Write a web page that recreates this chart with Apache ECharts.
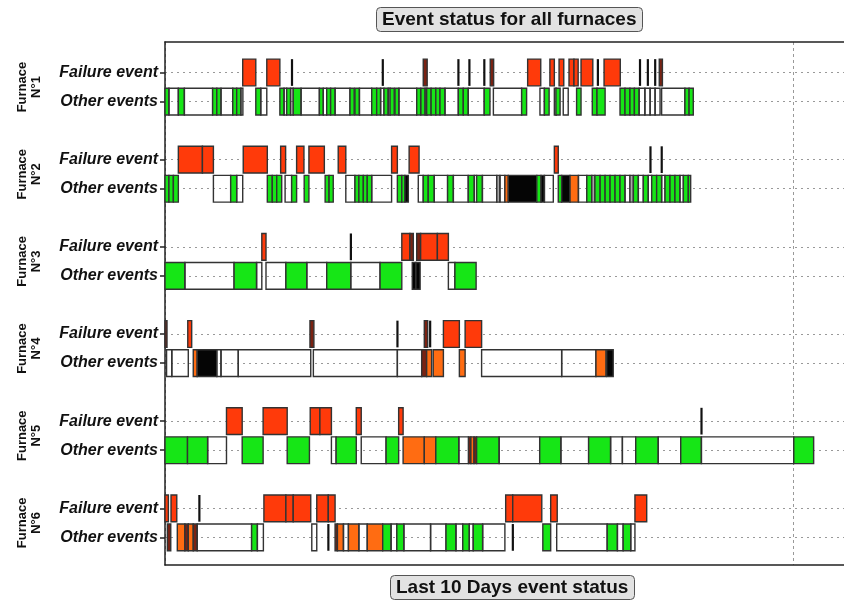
<!DOCTYPE html>
<html>
<head>
<meta charset="utf-8">
<title>Event status for all furnaces</title>
<script src="https://cdn.jsdelivr.net/npm/echarts@6/dist/echarts.min.js"></script>
<style>
  html, body { margin: 0; padding: 0; background: #fff; }
  #chart { width: 844px; height: 606px; }
</style>
</head>
<body>
<div id="chart"></div>
<script>
// hours since the start of the 10 day window: [start, end, kind]
// kind: F failure, D short failure, L instant event, G green, W no colour, O orange, B black, Y grey
const f1Failure = [
  [29.7, 34.7, 'F'], [38.9, 43.9, 'F'], [48.5, 48.5, 'L'], [83.2, 83.2, 'L'], [98.7, 100.2, 'D'],
  [112.1, 112.1, 'L'], [116.3, 116.3, 'L'], [122.0, 122.0, 'L'], [124.3, 125.6, 'D'], [138.6, 143.6, 'F'],
  [147.1, 148.8, 'F'], [150.6, 152.4, 'F'], [154.4, 156.3, 'F'], [156.3, 157.9, 'F'], [159.0, 163.5, 'F'],
  [165.4, 165.4, 'L'], [167.8, 174.0, 'F'], [181.5, 181.5, 'L'], [184.5, 184.5, 'L'], [187.3, 187.3, 'L'],
  [188.9, 190.1, 'D']
]
const f1Other = [
  [0, 1.5, 'G'], [1.5, 5.1, 'W'], [5.1, 7.4, 'G'], [7.4, 18.2, 'W'], [18.2, 19.8, 'G'], [19.8, 21.4, 'G'],
  [21.4, 25.9, 'W'], [25.9, 27.4, 'G'], [27.4, 29.0, 'G'], [29.0, 29.7, 'W'], [34.7, 36.6, 'G'], [36.6, 38.9, 'W'],
  [43.9, 45.5, 'G'], [45.5, 46.5, 'W'], [46.5, 48.0, 'G'], [48.0, 49.0, 'W'], [49.0, 52.0, 'G'], [52.0, 59.0, 'W'],
  [59.0, 60.5, 'G'], [60.5, 61.8, 'W'], [61.8, 63.3, 'G'], [63.3, 65.0, 'G'], [65.0, 70.7, 'W'], [70.7, 72.3, 'G'],
  [72.6, 74.3, 'G'], [74.3, 79.0, 'W'], [79.0, 80.9, 'G'], [80.9, 82.4, 'G'], [82.4, 83.7, 'W'], [83.7, 85.3, 'G'],
  [85.3, 86.0, 'W'], [86.0, 87.6, 'G'], [87.9, 89.4, 'G'], [89.4, 96.2, 'W'], [96.2, 97.7, 'G'], [97.8, 99.4, 'G'],
  [99.4, 100.0, 'W'], [100.0, 101.7, 'G'], [101.7, 103.5, 'G'], [103.5, 105.1, 'G'], [105.1, 107.0, 'G'],
  [107.0, 112.1, 'W'], [112.1, 114.0, 'G'], [114.0, 115.9, 'G'], [115.9, 122.0, 'W'], [122.0, 124.2, 'G'],
  [125.5, 136.3, 'W'], [136.3, 138.2, 'G'], [143.3, 145.0, 'W'], [145.0, 146.8, 'G'], [148.8, 149.4, 'W'],
  [149.4, 151.0, 'G'], [152.2, 154.1, 'W'], [157.3, 159.0, 'G'], [163.3, 165.1, 'G'], [165.1, 168.2, 'G'],
  [173.9, 175.8, 'G'], [175.8, 177.7, 'G'], [177.7, 179.4, 'G'], [179.4, 181.2, 'G'], [181.2, 183.4, 'W'],
  [183.4, 185.4, 'W'], [185.4, 187.3, 'W'], [187.3, 189.2, 'W'], [189.8, 198.7, 'W'], [198.7, 200.3, 'G'],
  [200.3, 201.9, 'G']
]
const f2Failure = [
  [5.1, 14.3, 'F'], [14.3, 18.5, 'F'], [29.9, 39.1, 'F'], [44.2, 46.1, 'F'], [50.3, 53.1, 'F'], [55.0, 60.9, 'F'],
  [66.2, 69.1, 'F'], [86.6, 88.8, 'F'], [93.3, 97.1, 'F'], [148.8, 150.3, 'F'], [185.5, 185.5, 'L'], [189.8, 189.8, 'L']
]
const f2Other = [
  [0, 1.5, 'G'], [1.5, 3.2, 'G'], [3.2, 5.1, 'G'], [18.5, 25.1, 'W'], [25.1, 27.4, 'G'], [27.4, 29.7, 'W'],
  [39.1, 41.0, 'G'], [41.0, 42.7, 'G'], [42.7, 44.6, 'G'], [45.9, 48.4, 'W'], [48.4, 50.3, 'G'], [53.2, 55.0, 'G'],
  [61.2, 62.7, 'G'], [62.7, 64.3, 'G'], [69.1, 72.6, 'W'], [72.6, 74.1, 'G'], [74.1, 75.8, 'G'], [75.8, 77.3, 'G'],
  [77.3, 79.0, 'G'], [79.0, 86.6, 'W'], [88.8, 90.5, 'G'], [90.5, 91.7, 'G'], [91.7, 93.0, 'B'], [96.8, 98.7, 'W'],
  [98.7, 100.6, 'G'], [100.6, 102.9, 'G'], [102.9, 108.0, 'W'], [108.0, 110.2, 'G'], [110.2, 115.9, 'W'],
  [115.9, 118.2, 'G'], [118.2, 119.1, 'W'], [119.1, 121.3, 'G'], [121.3, 126.8, 'W'], [126.8, 128.0, 'Y'],
  [128.0, 129.9, 'W'], [129.9, 131.2, 'O'], [131.2, 142.1, 'B'], [142.1, 143.7, 'G'], [143.7, 145.0, 'B'],
  [145.0, 148.4, 'W'], [150.3, 151.6, 'G'], [151.6, 154.8, 'B'], [154.8, 158.0, 'O'], [158.0, 161.2, 'W'],
  [161.2, 163.1, 'G'], [163.1, 164.3, 'Y'], [164.3, 166.3, 'G'], [166.3, 168.2, 'G'], [168.2, 170.1, 'G'],
  [170.1, 172.0, 'G'], [172.0, 173.9, 'G'], [173.9, 175.8, 'G'], [175.8, 177.7, 'W'], [177.7, 179.0, 'Y'],
  [179.0, 180.9, 'G'], [180.9, 182.8, 'W'], [182.8, 184.7, 'G'], [184.7, 186.0, 'W'], [186.0, 187.9, 'G'],
  [187.9, 189.8, 'G'], [189.8, 191.1, 'W'], [191.1, 193.0, 'G'], [193.0, 194.9, 'G'], [194.9, 196.8, 'G'],
  [196.8, 198.1, 'W'], [198.1, 200.0, 'G'], [200.0, 200.9, 'G']
]
const f3Failure = [
  [37.0, 38.6, 'F'], [71.0, 71.0, 'L'], [90.5, 93.6, 'F'], [93.6, 94.9, 'D'], [96.2, 97.7, 'D'],
  [97.7, 104.1, 'F'], [104.1, 108.3, 'F']
]
const f3Other = [
  [0, 7.6, 'G'], [7.6, 26.4, 'W'], [26.4, 35.0, 'G'], [35.0, 37.0, 'W'], [38.6, 46.2, 'W'], [46.2, 54.2, 'G'],
  [54.2, 61.8, 'W'], [61.8, 71.0, 'G'], [71.0, 82.2, 'W'], [82.2, 90.5, 'G'], [94.5, 95.9, 'B'], [95.9, 97.5, 'B'],
  [108.3, 110.8, 'W'], [110.8, 118.9, 'G']
]
const f4Failure = [
  [0, 0.6, 'D'], [8.7, 10.2, 'F'], [55.4, 56.9, 'D'], [88.8, 88.8, 'L'], [99.1, 100.4, 'D'], [101.3, 101.3, 'L'],
  [106.4, 112.5, 'F'], [114.7, 121.0, 'F']
]
const f4Other = [
  [0.6, 2.6, 'W'], [2.6, 8.9, 'W'], [10.8, 12.3, 'O'], [12.3, 19.8, 'B'], [19.8, 21.4, 'W'], [21.4, 28.0, 'W'],
  [28.0, 55.7, 'W'], [56.7, 88.8, 'W'], [88.8, 98.1, 'W'], [98.1, 100.0, 'D'], [100.0, 101.9, 'O'],
  [102.5, 106.4, 'O'], [112.5, 114.7, 'O'], [121.0, 151.6, 'W'], [151.6, 164.7, 'W'], [164.7, 168.5, 'O'],
  [168.8, 171.3, 'B']
]
const f5Failure = [
  [23.5, 29.5, 'F'], [37.5, 46.7, 'F'], [55.5, 59.2, 'F'], [59.2, 63.6, 'F'], [73.1, 75.0, 'F'], [89.3, 91.0, 'F'],
  [205.0, 205.0, 'L']
]
const f5Other = [
  [0, 8.6, 'G'], [8.6, 16.3, 'G'], [16.3, 23.5, 'W'], [29.5, 37.5, 'G'], [46.7, 55.2, 'G'], [63.6, 65.4, 'W'],
  [65.4, 73.1, 'G'], [75.0, 84.5, 'W'], [84.5, 89.3, 'G'], [91.0, 99.1, 'O'], [99.1, 103.5, 'O'], [103.5, 112.3, 'G'],
  [112.3, 116.0, 'W'], [116.0, 116.9, 'D'], [116.9, 118.1, 'O'], [118.1, 119.1, 'D'], [119.1, 127.7, 'G'],
  [127.7, 143.2, 'W'], [143.2, 151.3, 'G'], [151.3, 161.9, 'W'], [161.9, 170.3, 'G'], [170.3, 174.8, 'W'],
  [174.8, 179.9, 'W'], [179.9, 188.5, 'G'], [188.5, 197.1, 'W'], [197.1, 205.0, 'G'], [205.0, 240.3, 'W'],
  [240.3, 247.9, 'G']
]
const f6Failure = [
  [0, 1.3, 'F'], [2.3, 4.5, 'F'], [13.1, 13.1, 'L'], [37.8, 46.2, 'F'], [46.2, 49.0, 'F'], [49.0, 55.7, 'F'],
  [58.0, 62.4, 'F'], [62.4, 65.0, 'F'], [130.2, 132.9, 'F'], [132.9, 144.0, 'F'], [147.4, 149.9, 'F'],
  [179.6, 184.1, 'F']
]
const f6Other = [
  [0.9, 2.2, 'D'], [4.7, 7.6, 'O'], [7.6, 8.9, 'D'], [8.9, 10.8, 'O'], [10.8, 12.3, 'D'], [12.3, 33.1, 'W'],
  [33.1, 35.3, 'G'], [35.3, 37.6, 'W'], [56.1, 58.0, 'W'], [62.4, 62.4, 'L'], [65.0, 65.9, 'D'], [65.9, 68.2, 'O'],
  [68.2, 70.1, 'W'], [70.1, 74.1, 'O'], [74.1, 77.3, 'W'], [77.3, 83.2, 'O'], [83.2, 86.4, 'G'], [86.4, 88.6, 'W'],
  [88.6, 91.3, 'G'], [91.3, 101.5, 'W'], [101.5, 107.4, 'W'], [107.4, 111.2, 'G'], [111.2, 113.8, 'W'],
  [113.8, 116.3, 'G'], [116.3, 117.8, 'W'], [117.8, 121.4, 'G'], [121.4, 129.9, 'W'], [132.9, 132.9, 'L'],
  [144.4, 147.4, 'G'], [149.7, 169.0, 'W'], [169.0, 172.9, 'G'], [172.9, 175.1, 'W'], [175.1, 178.0, 'G'],
  [178.0, 179.6, 'W']
]

const furnaceNames = ['N°1', 'N°2', 'N°3', 'N°4', 'N°5', 'N°6']
const rowNames = ['Failure event', 'Other events']
const windowHours = [0, 240, 259.5] // start, last 10 days mark, right edge

const furnaceRows = [
  [f1Failure, f1Other], [f2Failure, f2Other], [f3Failure, f3Other],
  [f4Failure, f4Other], [f5Failure, f5Other], [f6Failure, f6Other]
]

const kindColors = {
  F: '#ff3a0a', D: '#7a2212', L: '#111', G: '#16e616', W: 'rgba(255,255,255,0)',
  O: '#ff6c12', B: '#050505', Y: '#a8a8a8'
}

// rows on the y axis: failure = 3k, other = 3k + 1, 3k + 2 is the gap
const rowValues = []
const events = []
furnaceRows.forEach((pair, k) => {
  pair.forEach((list, r) => {
    const y = k * 3 + r
    rowValues.push(y)
    list.forEach(ev => events.push({ value: [ev[0], ev[1], y], kind: ev[2] }))
  })
})

function renderEvent (params, api) {
  const kind = events[params.dataIndex].kind
  const row = api.value(2)
  const p0 = api.coord([api.value(0), row])
  const p1 = api.coord([api.value(1), row])
  const h = api.size([0, 1])[1] * 0.92
  if (kind === 'L') {
    return {
      type: 'rect',
      shape: { x: p0[0] - 1, y: p0[1] - h / 2, width: 2.2, height: h },
      style: { fill: kindColors.L }
    }
  }
  return {
    type: 'rect',
    shape: { x: p0[0], y: p0[1] - h / 2, width: Math.max(p1[0] - p0[0], 2), height: h },
    style: { fill: kindColors[kind], stroke: '#333', lineWidth: 1.4 }
  }
}

const chart = echarts.init(document.getElementById('chart'))
const boxTitle = {
  padding: [3, 6],
  backgroundColor: '#e2e2e2',
  borderColor: '#555',
  borderWidth: 1,
  borderRadius: 4,
  textStyle: { fontSize: 19, fontWeight: 'bold', color: '#111', fontFamily: 'Liberation Sans' }
}
const frameLine = { show: true, onZero: false, lineStyle: { color: '#222', width: 1.5 } }
chart.setOption({
  animation: false,
  title: [
    Object.assign({ text: 'Event status for all furnaces', left: 376, top: 7 }, boxTitle),
    Object.assign({ text: 'Last 10 Days event status', left: 390, top: 575 }, boxTitle)
  ],
  grid: { left: 165, top: 42, right: 0, bottom: 41 },
  xAxis: [{
    type: 'value', min: windowHours[0], max: windowHours[2], interval: windowHours[1],
    axisLine: frameLine,
    axisTick: { show: false },
    axisLabel: { show: false },
    splitLine: { show: true, lineStyle: { color: '#999', type: [3, 3] } }
  }, {
    // top border of the frame
    type: 'value', position: 'top', min: windowHours[0], max: windowHours[2],
    axisLine: frameLine,
    axisTick: { show: false },
    axisLabel: { show: false },
    splitLine: { show: false }
  }],
  yAxis: {
    type: 'value', inverse: true, min: -1.05, max: 16.95,
    axisLine: frameLine,
    axisTick: { show: true, customValues: rowValues, length: 5, lineStyle: { color: '#222', width: 1.5 } },
    axisLabel: {
      customValues: rowValues,
      formatter: v => rowNames[Math.round(v) % 3] || '',
      margin: 7, fontSize: 16, fontWeight: 'bold', fontStyle: 'italic', color: '#111',
      fontFamily: 'Liberation Sans'
    },
    splitLine: { show: true, lineStyle: { color: '#999', type: [2, 4] } }
  },
  series: [{
    type: 'custom',
    renderItem: renderEvent,
    encode: { x: [0, 1], y: 2 },
    xAxisIndex: 0,
    data: events
  }]
})

// furnace names on the left, centred between their two rows
const graphics = furnaceNames.map((name, k) => {
  const y = chart.convertToPixel({ gridIndex: 0 }, [0, k * 3 + 0.5])[1]
  return {
    type: 'text',
    x: 29,
    y: y,
    rotation: Math.PI / 2,
    style: {
      text: 'Furnace\n' + name,
      fontSize: 13,
      fontWeight: 'bold',
      fontFamily: 'Liberation Sans',
      lineHeight: 14,
      fill: '#111',
      align: 'center',
      verticalAlign: 'middle'
    }
  }
})
chart.setOption({ graphic: graphics })
</script>
</body>
</html>
